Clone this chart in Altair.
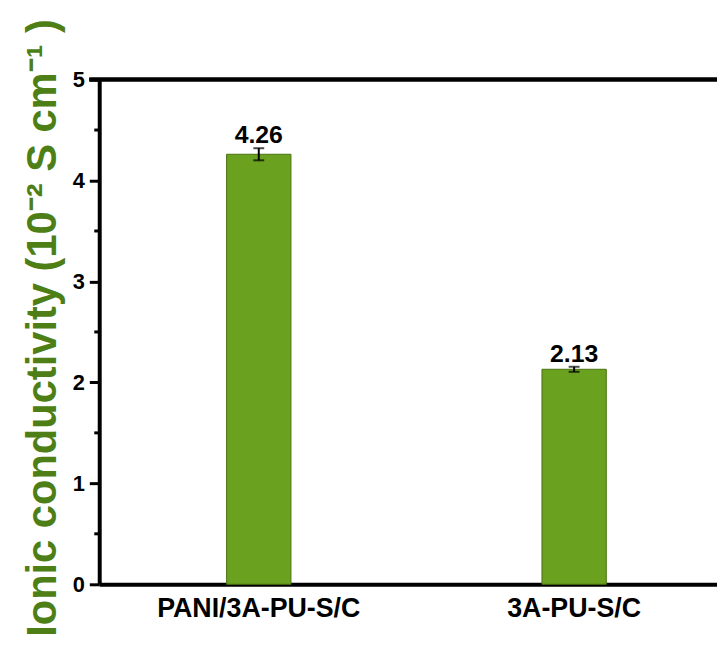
import altair as alt
import pandas as pd

categories = ["PANI/3A-PU-S/C", "3A-PU-S/C"]
values = [4.26, 2.13]
errors = [0.06, 0.025]
labels = ["4.26", "2.13"]
minor_ticks = [0.5, 1.5, 2.5, 3.5, 4.5]

df = pd.DataFrame({"cat": categories, "val": values, "err": errors, "lab": labels})
df["lo"] = df["val"] - df["err"]
df["hi"] = df["val"] + df["err"]
minor_df = pd.DataFrame({"m": minor_ticks})

FONT = "Liberation Sans"

x_scale = alt.Scale(domain=categories, paddingInner=0.796, paddingOuter=0.3775, align=0.535)
y_scale = alt.Scale(domain=[0, 5], nice=False)

x_enc = alt.X("cat:N", scale=x_scale, sort=categories,
              axis=alt.Axis(title=None, labelAngle=0, ticks=False, labelPadding=11,
                            labelFont=FONT, labelFontSize=27, labelFontWeight="bold",
                            labelColor="black", domainColor="black", domainWidth=4,
                            labelBaseline="top", labelLimit=0))

y_axis = alt.Axis(values=[0, 1, 2, 3, 4, 5], format="d", tickSize=10, tickWidth=3,
                  tickColor="black",
                  domainColor="black", domainWidth=4, grid=False,
                  labelFont=FONT, labelFontSize=22, labelFontWeight="bold",
                  labelColor="black", labelPadding=5,
                  title="Ionic conductivity (10⁻² S cm⁻¹ )",
                  titleFont=FONT, titleFontSize=42, titleFontWeight="bold",
                  titleColor="#4e7f16", titleAngle=270, titleAlign="center",
                  titleBaseline="alphabetic", titleX=-44, titleY=250)

bars = alt.Chart(df).mark_bar(color="#6aa11e", stroke="#4a7010", strokeWidth=1).encode(
    x=x_enc,
    y=alt.Y("val:Q", scale=y_scale, axis=y_axis),
)

err_rule = alt.Chart(df).mark_rule(color="black", strokeWidth=2).encode(
    x=alt.X("cat:N", scale=x_scale, sort=categories),
    y=alt.Y("lo:Q", scale=y_scale),
    y2="hi:Q",
)
err_top = alt.Chart(df).mark_tick(color="black", size=11, thickness=2).encode(
    x=alt.X("cat:N", scale=x_scale, sort=categories),
    y=alt.Y("hi:Q", scale=y_scale),
)
err_bot = alt.Chart(df).mark_tick(color="black", size=11, thickness=2).encode(
    x=alt.X("cat:N", scale=x_scale, sort=categories),
    y=alt.Y("lo:Q", scale=y_scale),
)
text = alt.Chart(df).mark_text(font=FONT, fontSize=25, fontWeight="bold", color="black",
                                baseline="alphabetic", dy=-5).encode(
    x=alt.X("cat:N", scale=x_scale, sort=categories),
    y=alt.Y("hi:Q", scale=y_scale),
    text="lab:N",
)
minor = alt.Chart(minor_df).mark_rule(color="black", strokeWidth=3).encode(
    y=alt.Y("m:Q", scale=y_scale),
    x=alt.value(-5),
    x2=alt.value(0),
)
top_line = alt.Chart(df).mark_rule(color="black", strokeWidth=4).encode(
    y=alt.datum(5, scale=y_scale),
    x=alt.value(-10),
    x2=alt.value(630),
)

chart = alt.layer(bars, err_rule, err_top, err_bot, text, minor, top_line).properties(
    width=623, height=509,
    autosize=alt.AutoSizeParams(type="none"),
    padding={"left": 92, "top": 69.5, "right": 0, "bottom": 54},
).configure_view(stroke=None)

chart.save("out.html", embed_options={"renderer": "svg", "actions": False})
